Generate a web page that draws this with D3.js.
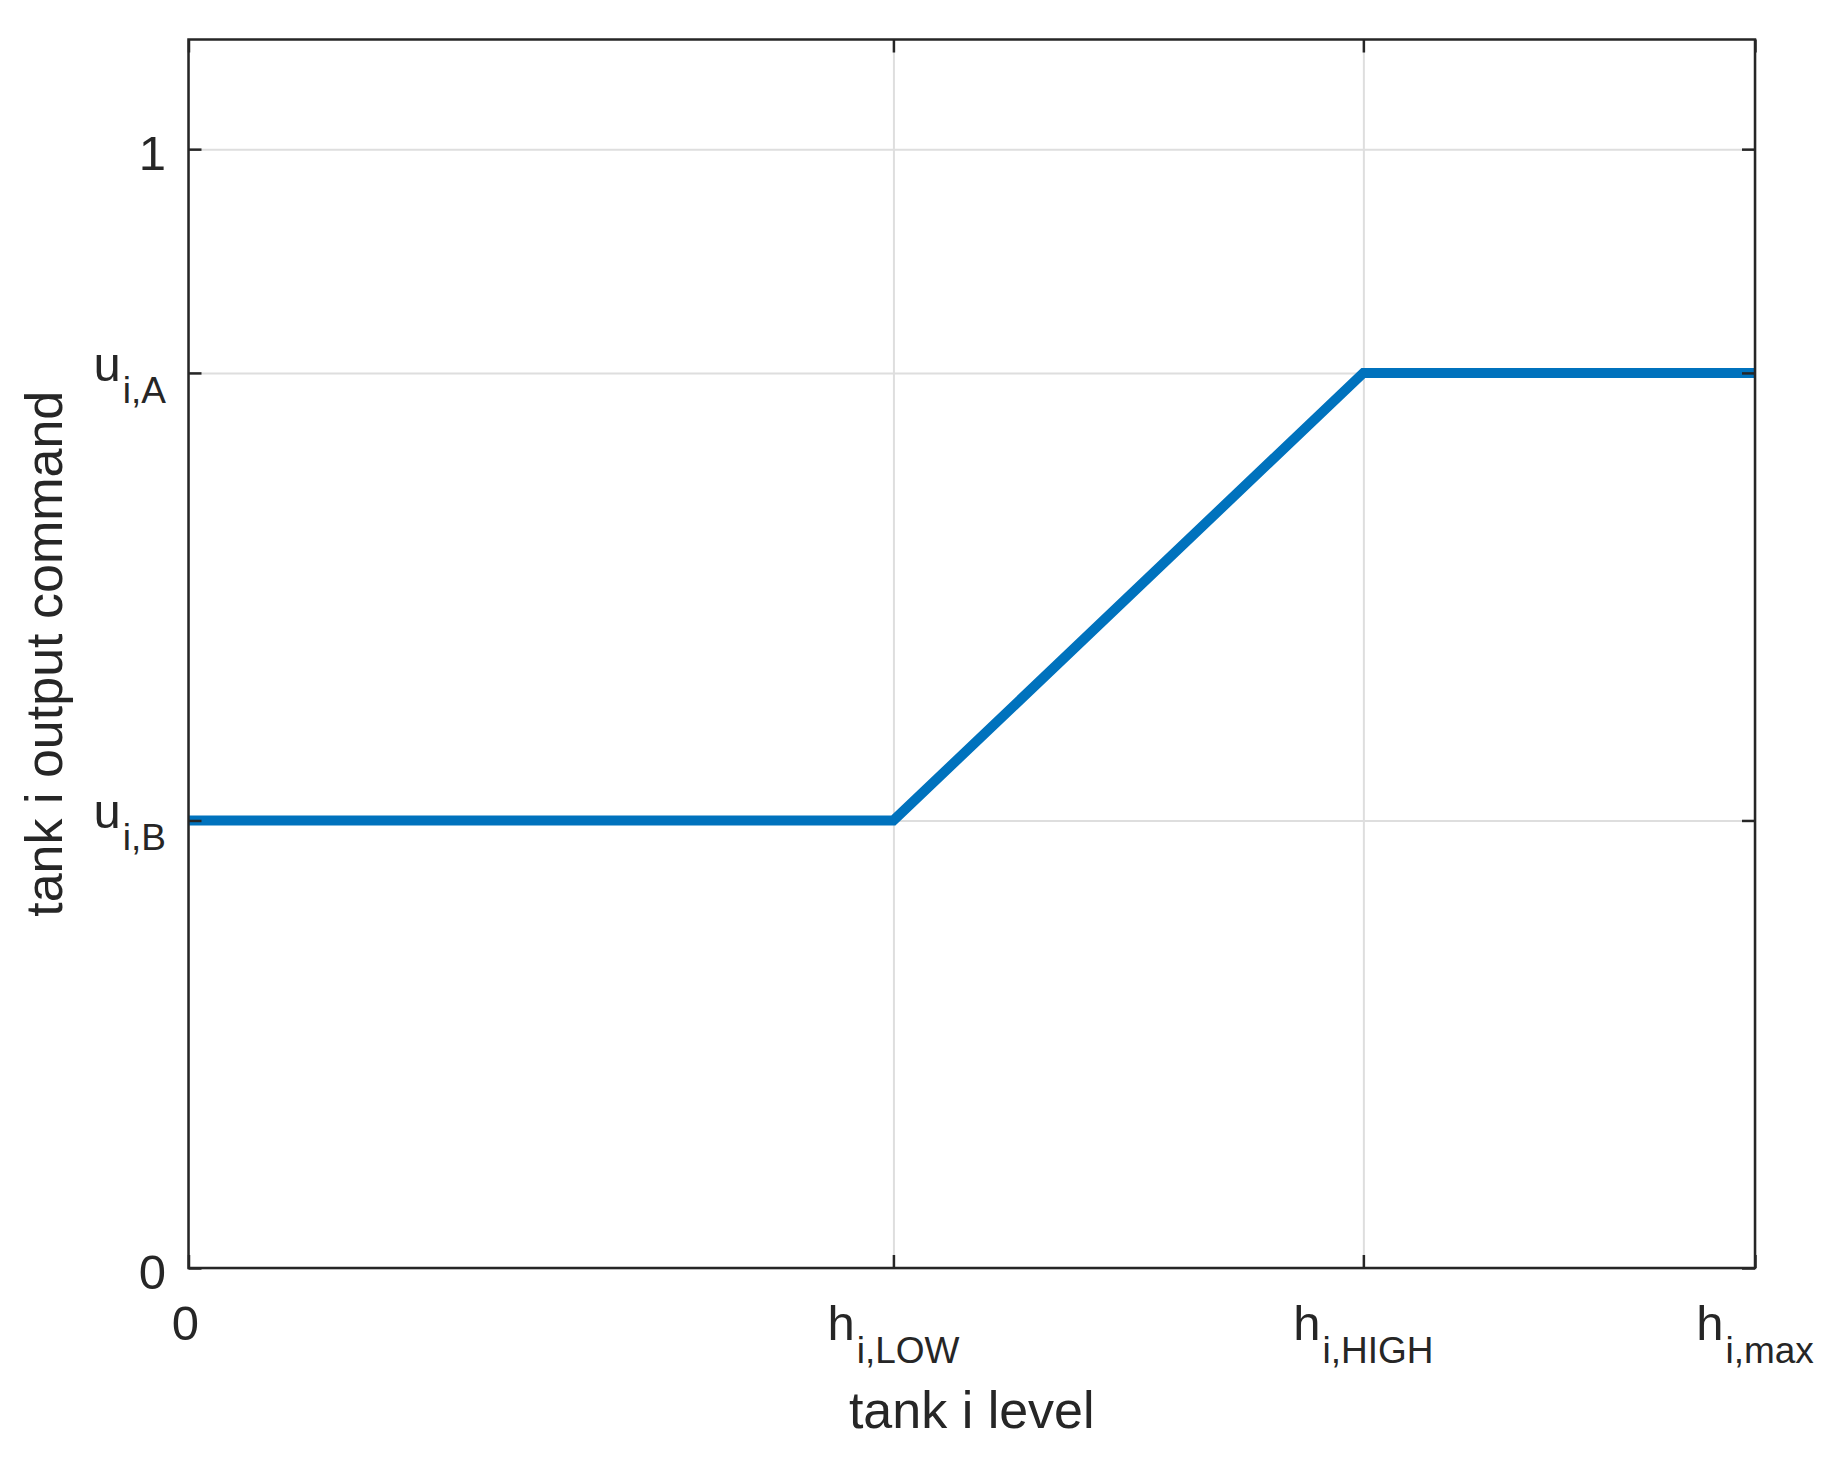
<!DOCTYPE html>
<html>
<head>
<meta charset="utf-8">
<script src="https://cdn.jsdelivr.net/npm/d3@7"></script>
<style>
  html, body { margin: 0; padding: 0; background: #ffffff; }
  svg { display: block; }
  text { font-family: "Liberation Sans", Arial, Helvetica, sans-serif; fill: #262626; }
</style>
</head>
<body>
<svg id="chart" width="1839" height="1461"></svg>
<script>
// ---- data ----
const levelX = [0, 0.45, 0.75, 1];          // tank i level (fraction of h_i,max)
const commandY = [0.4, 0.4, 0.8, 0.8];      // tank i output command
const xTickValues = [0, 0.45, 0.75, 1];
const xTickMain = ["0", "h", "h", "h"];
const xTickSub = ["", "i,LOW", "i,HIGH", "i,max"];
const yTickValues = [0, 0.4, 0.8, 1];
const yTickMain = ["0", "u", "u", "1"];
const yTickSub = ["", "i,B", "i,A", ""];
const xLabel = "tank i level";
const yLabel = "tank i output command";

// ---- layout ----
const L = 188.5, R = 1755, T = 39.5, B = 1268;
const svg = d3.select("#chart");
const x = d3.scaleLinear().domain([0, 1]).range([L, R]);
const y = d3.scaleLinear().domain([0, 1.098]).range([B, T]);
const axisColor = "#262626";
const gridColor = "#dedede";

// grid
const gx = svg.append("g").attr("transform", `translate(0,${B})`)
  .call(d3.axisBottom(x).tickValues(xTickValues).tickSize(-(B - T)).tickFormat(""));
const gy = svg.append("g").attr("transform", `translate(${L},0)`)
  .call(d3.axisLeft(y).tickValues(yTickValues).tickSize(-(R - L)).tickFormat(""));
[gx, gy].forEach(g => {
  g.select(".domain").remove();
  g.selectAll(".tick line").attr("stroke", gridColor).attr("stroke-width", 2);
});

// data line
svg.append("clipPath").attr("id", "clip")
  .append("rect").attr("x", L).attr("y", T).attr("width", R - L).attr("height", B - T);
const pts = levelX.map((v, i) => [v, commandY[i]]);
svg.append("path")
  .datum(pts)
  .attr("clip-path", "url(#clip)")
  .attr("fill", "none")
  .attr("stroke", "#0072BD")
  .attr("stroke-width", 10)
  .attr("stroke-linejoin", "miter")
  .attr("d", d3.line().x(d => x(d[0])).y(d => y(d[1])));

// inward ticks on all four sides
const tickLen = 13;
function styleTicks(g) {
  g.select(".domain").remove();
  g.selectAll(".tick line").attr("stroke", axisColor).attr("stroke-width", 2.5);
}
svg.append("g").attr("transform", `translate(0,${B})`)
  .call(d3.axisBottom(x).tickValues(xTickValues).tickSize(-tickLen).tickFormat("")).call(styleTicks);
svg.append("g").attr("transform", `translate(0,${T})`)
  .call(d3.axisTop(x).tickValues(xTickValues).tickSize(-tickLen).tickFormat("")).call(styleTicks);
svg.append("g").attr("transform", `translate(${L},0)`)
  .call(d3.axisLeft(y).tickValues(yTickValues).tickSize(-tickLen).tickFormat("")).call(styleTicks);
svg.append("g").attr("transform", `translate(${R},0)`)
  .call(d3.axisRight(y).tickValues(yTickValues).tickSize(-tickLen).tickFormat("")).call(styleTicks);

// frame
svg.append("rect")
  .attr("x", L).attr("y", T).attr("width", R - L).attr("height", B - T)
  .attr("fill", "none").attr("stroke", axisColor).attr("stroke-width", 2.5);

// tick labels
const tickFont = 49, subFont = 37;
xTickValues.forEach((v, i) => {
  const t = svg.append("text")
    .attr("x", x(v) - (xTickSub[i] ? 0 : 3)).attr("y", 1340)
    .attr("text-anchor", "middle")
    .style("font-size", tickFont + "px");
  t.append("tspan").text(xTickMain[i]);
  if (xTickSub[i]) t.append("tspan").attr("dx", 2).attr("dy", 23).style("font-size", subFont + "px").text(xTickSub[i]);
});
yTickValues.forEach((v, i) => {
  const hasSub = !!yTickSub[i];
  const t = svg.append("text")
    .attr("x", 166).attr("y", y(v) + (hasSub ? 8 : 21))
    .attr("text-anchor", "end")
    .style("font-size", tickFont + "px");
  t.append("tspan").text(yTickMain[i]);
  if (hasSub) t.append("tspan").attr("dx", 2).attr("dy", 22).style("font-size", subFont + "px").text(yTickSub[i]);
});

// axis labels
svg.append("text")
  .attr("x", (L + R) / 2).attr("y", 1428)
  .attr("text-anchor", "middle")
  .style("font-size", "52px")
  .text(xLabel);
svg.append("text")
  .attr("transform", `translate(62,${(T + B) / 2}) rotate(-90)`)
  .attr("text-anchor", "middle")
  .style("font-size", "52px")
  .text(yLabel);
</script>
</body>
</html>
